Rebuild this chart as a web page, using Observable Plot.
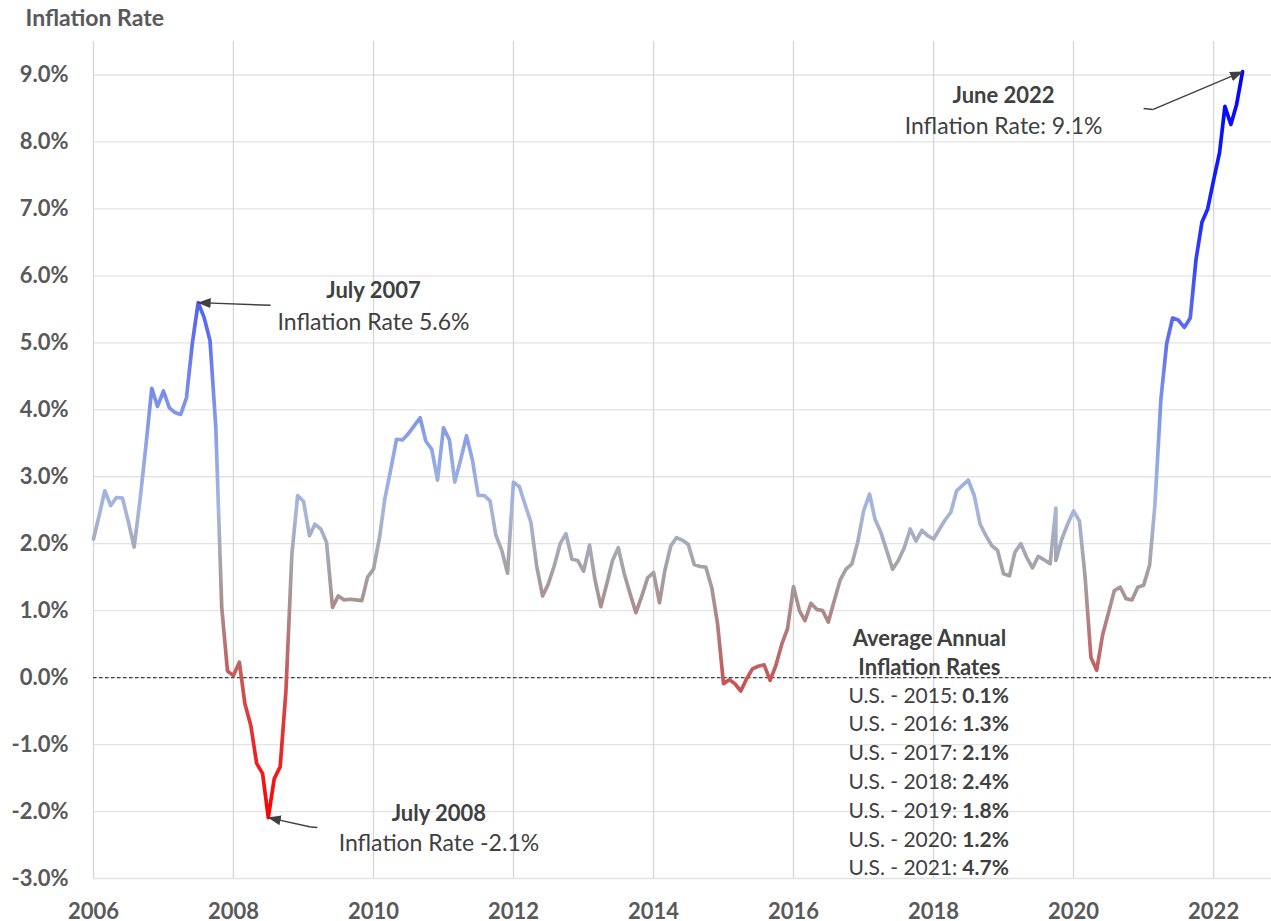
<!DOCTYPE html>
<html><head><meta charset="utf-8">
<script src="https://cdn.jsdelivr.net/npm/d3@7"></script>
<script src="https://cdn.jsdelivr.net/npm/@observablehq/plot@0.6"></script>
<style>
html,body{margin:0;padding:0;background:#fff;}
#chart svg{display:block;}
g[aria-label="table heading"] text{text-decoration:underline;}
</style></head><body><div id="chart"></div>
<script>
// ---- monthly inflation rate (%) ----
const startYear = 2006;
const r2006 = [2.07, 2.44, 2.79, 2.57, 2.69, 2.68, 2.34, 1.95, 2.66, 3.45, 4.32, 4.05];
const r2007 = [4.28, 4.03, 3.96, 3.93, 4.18, 5.00, 5.60, 5.38, 5.03, 3.74, 1.05, 0.10];
const r2008 = [0.03, 0.23, -0.39, -0.72, -1.28, -1.43, -2.09, -1.51, -1.33, -0.20, 1.84, 2.72];
const r2009 = [2.63, 2.12, 2.29, 2.22, 2.02, 1.05, 1.22, 1.16, 1.17, 1.16, 1.15, 1.50];
const r2010 = [1.62, 2.09, 2.67, 3.11, 3.56, 3.55, 3.64, 3.76, 3.88, 3.53, 3.41, 2.95];
const r2011 = [3.73, 3.55, 2.92, 3.26, 3.61, 3.25, 2.72, 2.72, 2.64, 2.13, 1.90, 1.56];
const r2012 = [2.92, 2.85, 2.59, 2.32, 1.67, 1.22, 1.40, 1.67, 2.00, 2.15, 1.77, 1.75];
const r2013 = [1.59, 1.98, 1.47, 1.06, 1.39, 1.75, 1.94, 1.55, 1.25, 0.97, 1.22, 1.49];
const r2014 = [1.57, 1.12, 1.60, 1.97, 2.09, 2.05, 1.99, 1.69, 1.66, 1.65, 1.34, 0.80];
const r2015 = [-0.09, -0.03, -0.09, -0.20, -0.02, 0.13, 0.17, 0.19, -0.04, 0.18, 0.50, 0.73];
const r2016 = [1.36, 1.00, 0.85, 1.11, 1.02, 1.00, 0.83, 1.15, 1.46, 1.62, 1.70, 2.02];
const r2017 = [2.49, 2.74, 2.37, 2.17, 1.90, 1.62, 1.75, 1.94, 2.22, 2.04, 2.20, 2.12];
const r2018 = [2.07, 2.22, 2.35, 2.47, 2.79, 2.87, 2.95, 2.72, 2.29, 2.12, 1.97, 1.90];
const r2019 = [1.55, 1.52, 1.87, 2.00, 1.80, 1.64, 1.81, 1.76, 1.70, 1.75, 2.07, 2.29];
const r2020 = [2.49, 2.34, 1.52, 0.30, 0.11, 0.64, 0.96, 1.30, 1.35, 1.18, 1.16, 1.35];
const r2021 = [1.38, 1.68, 2.59, 4.16, 4.99, 5.37, 5.34, 5.23, 5.37, 6.24, 6.80, 7.00];
const r2022 = [7.43, 7.84, 8.53, 8.26, 8.56, 9.05];
const rateYears = [r2006, r2007, r2008, r2009, r2010, r2011, r2012, r2013, r2014,
                   r2015, r2016, r2017, r2018, r2019, r2020, r2021, r2022];
// extra spike value plotted at the same month (Oct 2019) just before the regular value
const spikeYear = 2019, spikeMonthIndex = 9, spikeRate = 2.53;

// ---- ticks ----
const tickYears = [2006, 2008, 2010, 2012, 2014, 2016, 2018, 2020, 2022];
const yTicks = [-3, -2, -1, 0, 1, 2, 3, 4, 5, 6, 7, 8, 9];

// ---- average annual table ----
const averageYears = [2015, 2016, 2017, 2018, 2019, 2020, 2021];
const averageRates = [0.1, 1.3, 2.1, 2.4, 1.8, 1.2, 4.7];

// ---- annotation texts ----
const calloutTitles = ["July 2007", "July 2008", "June 2022"];
const calloutLines = ["Inflation Rate 5.6%", "Inflation Rate -2.1%", "Inflation Rate: 9.1%"];

// ---------------------------------------------------------------
const data = [];
rateYears.forEach((arr, i) => arr.forEach((v, m) => {
  const date = new Date(Date.UTC(startYear + i, m, 1));
  if (startYear + i === spikeYear && m === spikeMonthIndex) data.push({date, rate: spikeRate});
  data.push({date, rate: v});
}));

const xTicks = tickYears.map(y => new Date(Date.UTC(y, 0, 1)));
const xDomain = [new Date(Date.UTC(2006, 0, 1)), new Date(Date.UTC(2022, 9, 30))];
const D = s => new Date(s + "T00:00:00Z");

const callouts = [
  {title: calloutTitles[0], line: calloutLines[0], date: "2010-01-01", yTitle: 5.77, yLine: 5.30},
  {title: calloutTitles[1], line: calloutLines[1], date: "2010-12-08", yTitle: -2.03, yLine: -2.48},
  {title: calloutTitles[2], line: calloutLines[2], date: "2019-01-01", yTitle: 8.68, yLine: 8.23}
];
// arrow polylines: tail ... head (head sits on the data point)
const arrowLines = [
  [["2008-07-13", 5.56], ["2007-07-01", 5.60]],
  [["2009-03-14", -2.238], ["2009-02-07", -2.231], ["2008-07-01", -2.09]],
  [["2021-01-01", 8.50], ["2021-02-17", 8.484], ["2022-06-01", 9.05]]
];
const segs = [];
arrowLines.forEach(pts => pts.slice(1).forEach((p, i) => segs.push({
  x1: D(pts[i][0]), y1: pts[i][1], x2: D(p[0]), y2: p[1], head: i === pts.length - 2
})));

const tableX = D("2017-12-10");
const headingRows = [{t: "Average Annual", y: 0.584}, {t: "Inflation Rates", y: 0.151}];
const tableRows = averageYears.map((yr, i) => ({label: `U.S. - ${yr}:`, value: averageRates[i].toFixed(1) + "%", y: -0.274 - i * 0.430}));

const gradientStops = [
  [-2.1, "#ff0000"], [-1.3, "#f31c1c"], [-0.5, "#d84040"], [0, "#c75858"], [0.6, "#b57777"],
  [1.2, "#a99393"], [1.8, "#a6a6b0"], [2.5, "#a6b6da"], [3.3, "#93a8e4"], [4.2, "#7a8fe8"],
  [5.0, "#6272ee"], [5.6, "#5262f2"], [6.3, "#3040fa"], [7.2, "#1520ff"], [9.1, "#0000ff"]
];

const FONT = "Lato, 'Open Sans', sans-serif";
const plot = Plot.plot({
  width: 1271, height: 921,
  marginLeft: 93, marginRight: 0, marginTop: 41, marginBottom: 43,
  style: {fontFamily: FONT, background: "#fff", overflow: "visible"},
  x: {type: "utc", domain: xDomain, axis: null},
  y: {domain: [-3, 9.5], axis: null},
  marks: [
    Plot.ruleY(yTicks, {stroke: "#e3e3e3", strokeWidth: 1.3}),
    Plot.ruleX(xTicks, {stroke: "#d6d6d6", strokeWidth: 1.3}),
    Plot.ruleY([0], {stroke: "#404040", strokeWidth: 1.1, strokeDasharray: "3.5,2.5"}),
    Plot.line(data, {x: "date", y: "rate", stroke: "url(#inflationGradient)", strokeWidth: 3.7, strokeLinejoin: "round", strokeLinecap: "round"}),
    // axis labels
    Plot.text(yTicks, {y: d => d, frameAnchor: "left", dx: -25, textAnchor: "end", lineAnchor: "middle", text: d => d.toFixed(1) + "%",
      fontSize: 22, fontWeight: "bold", fill: "#595959", fontFamily: FONT}),
    Plot.text(xTicks, {x: d => d, frameAnchor: "bottom", dy: 33, lineAnchor: "middle", text: d => String(d.getUTCFullYear()),
      fontSize: 22, fontWeight: "bold", fill: "#595959", fontFamily: FONT}),
    Plot.text(["Inflation Rate"], {frameAnchor: "top-left", dx: -68, dy: -23, textAnchor: "start", lineAnchor: "middle",
      fontSize: 23, fontWeight: "bold", fill: "#595959", fontFamily: FONT}),
    // callouts
    Plot.link(segs, {x1: "x1", y1: "y1", x2: "x2", y2: "y2", stroke: "#404040", strokeWidth: 1.4}),
    Plot.text(callouts, {x: d => D(d.date), y: "yTitle", text: "title", fontSize: 22, fontWeight: "bold", fill: "#404040", fontFamily: FONT}),
    Plot.text(callouts, {x: d => D(d.date), y: "yLine", text: "line", fontSize: 23, fill: "#404040", fontFamily: FONT}),
    // table
    Plot.text(headingRows, {x: () => tableX, y: "y", text: "t", fontSize: 22, fontWeight: "bold", fill: "#404040", fontFamily: FONT, ariaLabel: "table heading"}),
    Plot.text(tableRows, {x: () => tableX, y: "y", text: "label", textAnchor: "end", dx: 28, fontSize: 21, fill: "#404040", fontFamily: FONT}),
    Plot.text(tableRows, {x: () => tableX, y: "y", text: "value", textAnchor: "start", dx: 33, fontSize: 21, fontWeight: "bold", fill: "#404040", fontFamily: FONT})
  ]
});

// gradient (vertical, in y-scale positions) and filled arrow heads
const yScale = plot.scale("y");
const yPos = v => (yScale.apply ? yScale.apply(v) : d3.scaleLinear(yScale.domain, yScale.range)(v));
const svg = d3.select(plot);
const defs = svg.append("defs");
const lo = gradientStops[0][0], hi = gradientStops[gradientStops.length - 1][0];
const grad = defs.append("linearGradient").attr("id", "inflationGradient")
  .attr("gradientUnits", "userSpaceOnUse").attr("x1", 0).attr("x2", 0)
  .attr("y1", yPos(lo)).attr("y2", yPos(hi));
gradientStops.forEach(([v, c]) => grad.append("stop").attr("offset", (v - lo) / (hi - lo)).attr("stop-color", c));
defs.append("marker").attr("id", "arrowHead").attr("viewBox", "0 0 13 10").attr("refX", 12.5).attr("refY", 5)
  .attr("markerWidth", 13).attr("markerHeight", 10).attr("markerUnits", "userSpaceOnUse").attr("orient", "auto")
  .append("path").attr("d", "M0,0L13,5L0,10Z").attr("fill", "#404040");
// attach the head marker to the last segment of each arrow
plot.querySelectorAll('g[aria-label="link"]').forEach(g => {
  g.querySelectorAll("path, line").forEach((p, i) => {
    if (segs[i] && segs[i].head) p.setAttribute("marker-end", "url(#arrowHead)");
  });
});

document.getElementById("chart").appendChild(plot);
</script></body></html>
